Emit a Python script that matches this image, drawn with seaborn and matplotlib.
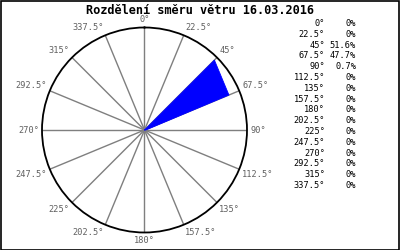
import numpy as np
import matplotlib
matplotlib.use("Agg")
import matplotlib.pyplot as plt
import seaborn as sns
from matplotlib.patches import Rectangle

# ---- data ----
directions = [0, 22.5, 45, 67.5, 90, 112.5, 135, 157.5, 180, 202.5,
              225, 247.5, 270, 292.5, 315, 337.5]
dir_labels = ["0°", "22.5°", "45°", "67.5°", "90°", "112.5°", "135°", "157.5°",
              "180°", "202.5°", "225°", "247.5°", "270°", "292.5°", "315°", "337.5°"]
percent = [0, 0, 51.6, 47.7, 0.7, 0, 0, 0, 0, 0, 0, 0, 0, 0, 0, 0]
pct_labels = ["0%", "0%", "51.6%", "47.7%", "0.7%", "0%", "0%", "0%", "0%", "0%",
              "0%", "0%", "0%", "0%", "0%", "0%"]
title = "Rozdělení směru větru 16.03.2016"
rmax = 53.5

sns.set_style("white")
plt.rcParams['font.family'] = ['DejaVu Sans Mono', 'DejaVu Sans']

fig = plt.figure(figsize=(4, 2.5), dpi=100)
fig.patch.set_facecolor("white")
fig.add_artist(Rectangle((0.0015, 0.002), 0.996, 0.995, transform=fig.transFigure,
                         fill=False, edgecolor="black", linewidth=1.2))

W, H = 400, 250
cx, cy, R = 144.5, 130, 102.5
ax = fig.add_axes([(cx - R) / W, (H - cy - R) / H, 2 * R / W, 2 * R / H], projection="polar")
ax.set_theta_zero_location("N")
ax.set_theta_direction(-1)
ax.set_ylim(0, rmax)
ax.set_yticks([])
ax.set_xticks(np.deg2rad(directions))
ax.set_xticklabels([])
ax.tick_params(axis='x', length=0)
ax.grid(True, axis='x', color="#7f7f7f", linewidth=1.0)
ax.spines['polar'].set_color("black")
ax.spines['polar'].set_linewidth(1.3)
ax.set_facecolor("white")

theta = np.deg2rad(directions + [directions[0]])
rvals = np.array(percent + [percent[0]])
ax.fill(theta, rvals, color="#0000ff", zorder=3, linewidth=0)
sns.lineplot(x=theta, y=rvals, ax=ax, sort=False, color="#0000ff",
             linewidth=0.6, zorder=4, estimator=None)

# angle labels around the circle
for d, lab in zip(directions, dir_labels):
    s, c = np.sin(np.deg2rad(d)), np.cos(np.deg2rad(d))
    ha = "center" if abs(s) < 0.2 else ("left" if s > 0 else "right")
    va = "center" if abs(c) < 0.2 else ("bottom" if c > 0 else "top")
    ax.text(np.deg2rad(d), rmax * 1.03, lab, ha=ha, va=va, fontsize=6.2,
            color="#606060", clip_on=False)

fig.text(0.5, 1 - 10 / H, title, ha="center", va="center", fontsize=8.6,
         fontweight="bold", color="black")

# legend table
y0, dy = 23.5, 10.8
for i, (dl, pl) in enumerate(zip(dir_labels, pct_labels)):
    y = 1 - (y0 + i * dy) / H
    fig.text(325 / W, y, dl, ha="right", va="center", fontsize=6.2, color="black")
    fig.text(356 / W, y, pl, ha="right", va="center", fontsize=6.2, color="black")

fig.savefig("out.png", dpi=100)
